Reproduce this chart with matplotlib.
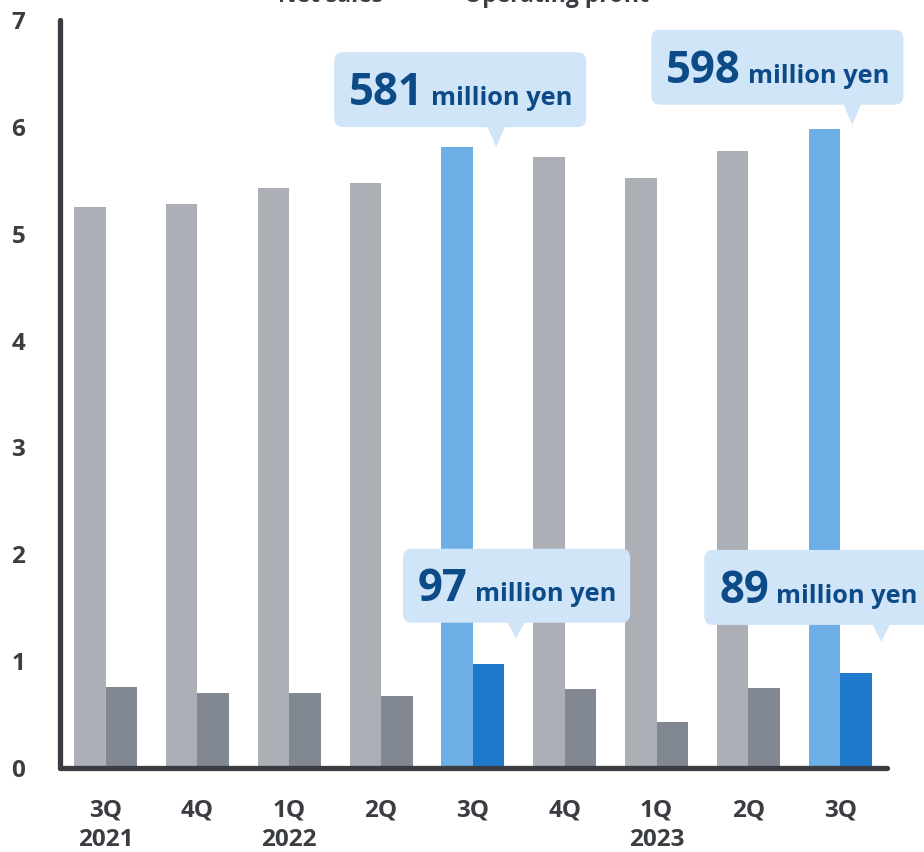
import matplotlib
matplotlib.use("Agg")
import matplotlib.pyplot as plt
from matplotlib import font_manager
from matplotlib.patches import FancyBboxPatch, Polygon
from matplotlib.transforms import IdentityTransform


def pick_bold_family(candidates):
    for fam in candidates:
        for f in font_manager.fontManager.ttflist:
            if f.name == fam and f.weight in (700, "bold") and f.style == "normal":
                return fam
    return "DejaVu Sans"


FAMILY = pick_bold_family(["Noto Sans", "Open Sans", "Lato", "Roboto"])
plt.rcParams["font.family"] = [FAMILY, "DejaVu Sans"]
plt.rcParams["font.weight"] = "bold"

# Quarterly results, in units of 100 million yen
quarters = ["3Q", "4Q", "1Q", "2Q", "3Q", "4Q", "1Q", "2Q", "3Q"]
years = ["2021", "", "2022", "", "", "", "2023", "", ""]
net_sales = [5.25, 5.28, 5.43, 5.47, 5.81, 5.72, 5.52, 5.77, 5.98]
operating_profit = [0.76, 0.70, 0.70, 0.67, 0.97, 0.74, 0.43, 0.75, 0.89]
highlight = [False, False, False, False, True, False, False, False, True]
y_ticks = [0, 1, 2, 3, 4, 5, 6, 7]

DARK = "#3a3d42"
GRAY_SALES = "#acafb6"
GRAY_PROFIT = "#828892"
BLUE_SALES = "#6daee6"
BLUE_PROFIT = "#1f7acc"
BOX = "#d0e5f7"
BOX_TEXT = "#0d4a88"

fig = plt.figure(figsize=(9.24, 8.52), dpi=100)
ax = fig.add_axes([60 / 924, 84 / 852, (887 - 60) / 924, (768 - 20) / 852])

w = 0.343
x = list(range(len(quarters)))
sales_colors = [BLUE_SALES if h else GRAY_SALES for h in highlight]
profit_colors = [BLUE_PROFIT if h else GRAY_PROFIT for h in highlight]
ax.bar([i - w / 2 for i in x], net_sales, width=w, color=sales_colors, zorder=2)
ax.bar([i + w / 2 for i in x], operating_profit, width=w, color=profit_colors, zorder=2)

ax.set_xlim(-0.496, 8.51)
ax.set_ylim(0, 7)
ax.set_yticks(y_ticks)
ax.set_yticklabels([str(t) for t in y_ticks])
ax.set_xticks(x)
ax.set_xticklabels([q + ("\n" + yr if yr else "") for q, yr in zip(quarters, years)],
                   linespacing=1.32)
ax.tick_params(axis="both", length=0, labelsize=17.5, labelcolor=DARK)
ax.tick_params(axis="y", pad=25)
ax.tick_params(axis="x", pad=22)
for lbl in ax.get_xticklabels() + ax.get_yticklabels():
    lbl.set_fontweight("bold")

for side in ("top", "right"):
    ax.spines[side].set_visible(False)
for side in ("left", "bottom"):
    sp = ax.spines[side]
    sp.set_linewidth(3.8)
    sp.set_color(DARK)
    sp.set_capstyle("round")
    sp.set_zorder(3)

# Legend captions along the top edge
fig.text(330 / 924, 1 - 2 / 852, "Net sales", ha="center", va="baseline",
         fontsize=16.5, fontweight="bold", color=DARK)
fig.text(557 / 924, 1 - 2 / 852, "Operating profit", ha="center", va="baseline",
         fontsize=16.5, fontweight="bold", color=DARK)

# Speech-bubble callouts: (index, series, tip offset x, tip offset y,
#                          box left offset px, gap px, box height px)
callouts = [
    (4, net_sales, 0.254, 0.00, -162, 20, 75),
    (8, net_sales, 0.132, 0.04, -201, 20, 75),
    (4, operating_profit, 0.470, 0.24, -113, 16, 74),
    (8, operating_profit, 0.447, 0.29, -177, 17, 75),
]

fig.canvas.draw()
renderer = fig.canvas.get_renderer()
ident = IdentityTransform()
for idx, series, dx, dy, left_off, gap, height in callouts:
    value = series[idx]
    tx, ty = ax.transData.transform((idx + dx, value + dy))
    bottom = ty + gap
    left = tx + left_off
    num = fig.text(left + 15, bottom + 22, f"{round(value * 100)}", transform=ident,
                   fontsize=31.5, fontweight="bold", color=BOX_TEXT, va="baseline",
                   ha="left", zorder=6)
    ext = num.get_window_extent(renderer)
    unit = fig.text(ext.x1 + 7, bottom + 22, "million yen", transform=ident,
                    fontsize=18.3, fontweight="bold", color=BOX_TEXT, va="baseline",
                    ha="left", zorder=6)
    uext = unit.get_window_extent(renderer)
    right = uext.x1 + 14
    box = FancyBboxPatch((left, bottom), right - left, height,
                         boxstyle="round,pad=0,rounding_size=9",
                         transform=ident, facecolor=BOX, edgecolor="none", zorder=5)
    fig.add_artist(box)
    tri = Polygon([(tx - 9, bottom + 1), (tx + 9, bottom + 1), (tx, ty)], closed=True,
                  transform=ident, facecolor=BOX, edgecolor="none", zorder=5)
    fig.add_artist(tri)

fig.savefig("out.png", dpi=100)
